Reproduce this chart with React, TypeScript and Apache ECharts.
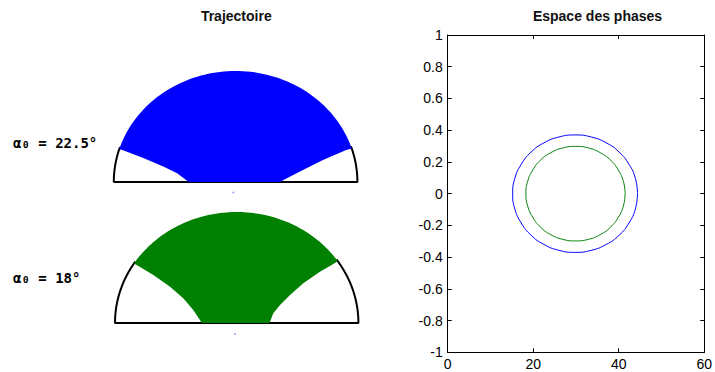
import React, { useEffect, useRef } from "react";
import * as echarts from "echarts";

// ---- Trajectory regions (normalised: radius of the half-disc = 1) ----
// lower boundary of the swept region, from left corner to right corner
const topFillLower: number[][] = [
  [-0.929, 0.288], [-0.753, 0.214], [-0.589, 0.138], [-0.48, 0.078], [-0.385, 0],
  [0.363, 0], [0.445, 0.048], [0.553, 0.108], [0.717, 0.198], [0.908, 0.288],
];
const bottomFillLower: number[][] = [
  [-0.822, 0.523], [-0.685, 0.432], [-0.548, 0.327], [-0.439, 0.223], [-0.357, 0.117],
  [-0.302, 0.027], [-0.288, 0], [0.27, 0], [0.274, 0.012], [0.301, 0.087],
  [0.356, 0.162], [0.438, 0.252], [0.547, 0.358], [0.684, 0.462], [0.794, 0.532],
];
const pivotTop: number[][] = [[-0.019, -0.096]];
const pivotBottom: number[][] = [[-0.014, -0.099]];

const labels = ["α₀ = 22.5°", "α₀ = 18°"];
const titles = ["Trajectoire", "Espace des phases"];

// ---- Phase space (x, y) points ----
const bluePhaseX = [44.4, 43.9, 42.4, 40.1, 37.1, 33.6, 29.8, 26.0, 22.5, 19.5, 17.2, 15.7, 15.2,
  15.7, 17.2, 19.5, 22.5, 26.0, 29.8, 33.6, 37.1, 40.1, 42.4, 43.9, 44.4];
const bluePhaseY = [0, 0.096, 0.185, 0.262, 0.32, 0.357, 0.37, 0.357, 0.32, 0.262, 0.185, 0.096, 0,
  -0.096, -0.185, -0.262, -0.32, -0.357, -0.37, -0.357, -0.32, -0.262, -0.185, -0.096, 0];
const greenPhaseX = [41.5, 41.1, 39.9, 38.1, 35.7, 32.9, 29.9, 26.9, 24.1, 21.7, 19.9, 18.7, 18.3,
  18.7, 19.9, 21.7, 24.1, 26.9, 29.9, 32.9, 35.7, 38.1, 39.9, 41.1, 41.5];
const greenPhaseY = [0, 0.077, 0.149, 0.211, 0.258, 0.288, 0.298, 0.288, 0.258, 0.211, 0.149, 0.077, 0,
  -0.077, -0.149, -0.211, -0.258, -0.288, -0.298, -0.288, -0.258, -0.211, -0.149, -0.077, 0];

const xTicks = [0, 60, 20];
const yTicks = [-1, 1, 0.2];

// unit half-circle frame
function arcPts(a0: number, a1: number, n: number): number[][] {
  const out: number[][] = [];
  for (let i = 0; i <= n; i++) {
    const a = a0 + ((a1 - a0) * i) / n;
    out.push([Math.cos(a), Math.sin(a)]);
  }
  return out;
}

function cornerAngles(lower: number[][]): number[] {
  const r = lower[lower.length - 1];
  const l = lower[0];
  return [Math.atan2(l[1], l[0]), Math.atan2(r[1], r[0])];
}

function regionPolygon(lower: number[][]): number[][] {
  const [aL, aR] = cornerAngles(lower);
  return lower.concat(arcPts(aR, aL, 80));
}

// frame: visible part of the half-circle outline (left arc, base, right arc)
function framePts(lower: number[][]): number[][] {
  const [aL, aR] = cornerAngles(lower);
  return arcPts(aL - 0.02, Math.PI, 40).concat(arcPts(0, aR + 0.02, 40));
}

export default function App() {
  const ref = useRef<HTMLDivElement>(null);
  useEffect(() => {
    if (!ref.current) return;
    const chart = echarts.init(ref.current, undefined, { renderer: "svg" });
    const topPoly = regionPolygon(topFillLower);
    const botPoly = regionPolygon(bottomFillLower);

    const hiddenX = (gi: number) => ({
      type: "value", gridIndex: gi, min: -1, max: 1, show: false,
    });
    const hiddenY = (gi: number) => ({
      type: "value", gridIndex: gi, min: 0, max: 1, show: false,
    });
    const polySeries = (xi: number, poly: number[][], color: string) => ({
      type: "custom",
      xAxisIndex: xi,
      yAxisIndex: xi,
      data: [[0, 0]],
      clip: false,
      renderItem: (params: any, api: any) => {
        const pts = poly.map((p) => api.coord(p));
        return { type: "polygon", shape: { points: pts }, style: { fill: color } };
      },
      z: 3,
    });
    const frameSeries = (xi: number, lower: number[][]) => ({
      type: "line",
      xAxisIndex: xi,
      yAxisIndex: xi,
      data: framePts(lower),
      showSymbol: false,
      clip: false,
      lineStyle: { color: "#000", width: 2 },
      z: 2,
    });
    const axisStyle = { onZero: false, lineStyle: { color: "#000", width: 1 } };
    const tickStyle = { inside: true, length: 4, lineStyle: { color: "#000" } };
    const labelStyle = { color: "#000", fontSize: 14, fontFamily: "Liberation Sans, Arial, sans-serif" };

    chart.setOption({
      animation: false,
      backgroundColor: "#fff",
      grid: [
        { left: 113.8, top: 71, width: 243.6, height: 111 },
        { left: 115, top: 212, width: 243.4, height: 111 },
        { left: 447.7, top: 35, width: 259, height: 317.3 },
      ],
      xAxis: [
        hiddenX(0),
        hiddenX(1),
        {
          type: "value", gridIndex: 2, min: xTicks[0], max: xTicks[1], interval: xTicks[2],
          position: "bottom", axisLine: axisStyle, axisTick: tickStyle,
          axisLabel: { ...labelStyle, margin: 5 }, splitLine: { show: false },
        },
        {
          type: "value", gridIndex: 2, min: xTicks[0], max: xTicks[1], interval: xTicks[2],
          position: "top", axisLine: axisStyle, axisTick: tickStyle,
          axisLabel: { show: false }, splitLine: { show: false },
        },
      ],
      yAxis: [
        hiddenY(0),
        hiddenY(1),
        {
          type: "value", gridIndex: 2, min: yTicks[0], max: yTicks[1], interval: yTicks[2],
          position: "left", axisLine: axisStyle, axisTick: tickStyle,
          axisLabel: { ...labelStyle, margin: 5 }, splitLine: { show: false },
        },
        {
          type: "value", gridIndex: 2, min: yTicks[0], max: yTicks[1], interval: yTicks[2],
          position: "right", axisLine: axisStyle, axisTick: tickStyle,
          axisLabel: { show: false }, splitLine: { show: false },
        },
      ],
      series: [
        frameSeries(0, topFillLower),
        polySeries(0, topPoly, "#0000ff"),
        frameSeries(1, bottomFillLower),
        polySeries(1, botPoly, "#008000"),
        {
          type: "scatter", xAxisIndex: 0, yAxisIndex: 0, data: pivotTop, clip: false,
          symbolSize: 2, itemStyle: { color: "#9090ff" }, z: 4,
        },
        {
          type: "scatter", xAxisIndex: 1, yAxisIndex: 1, data: pivotBottom, clip: false,
          symbolSize: 2, itemStyle: { color: "#9090ff" }, z: 4,
        },
        {
          type: "line", xAxisIndex: 2, yAxisIndex: 2, showSymbol: false, smooth: true,
          data: bluePhaseX.map((x, i) => [x, bluePhaseY[i]]),
          lineStyle: { color: "#0000ff", width: 1 },
        },
        {
          type: "line", xAxisIndex: 2, yAxisIndex: 2, showSymbol: false, smooth: true,
          data: greenPhaseX.map((x, i) => [x, greenPhaseY[i]]),
          lineStyle: { color: "#008000", width: 1 },
        },
      ],
      graphic: [
        {
          type: "text", x: 236.3, y: 15.5,
          style: {
            text: titles[0], fill: "#111", font: "bold 14px 'Liberation Sans', Arial, sans-serif",
            textAlign: "center", textVerticalAlign: "middle",
          },
        },
        {
          type: "text", x: 597.5, y: 15.5,
          style: {
            text: titles[1], fill: "#111", font: "bold 14px 'Liberation Sans', Arial, sans-serif",
            textAlign: "center", textVerticalAlign: "middle",
          },
        },
        {
          type: "text", x: 13, y: 143,
          style: {
            text: labels[0], fill: "#000", font: "bold 14px 'DejaVu Sans Mono', monospace",
            textAlign: "left", textVerticalAlign: "middle",
          },
        },
        {
          type: "text", x: 13, y: 278,
          style: {
            text: labels[1], fill: "#000", font: "bold 14px 'DejaVu Sans Mono', monospace",
            textAlign: "left", textVerticalAlign: "middle",
          },
        },
      ],
    });
    return () => chart.dispose();
  }, []);
  return (
    <div
      ref={ref}
      style={{ position: "absolute", left: 0, top: 0, width: 715, height: 372 }}
    />
  );
}
